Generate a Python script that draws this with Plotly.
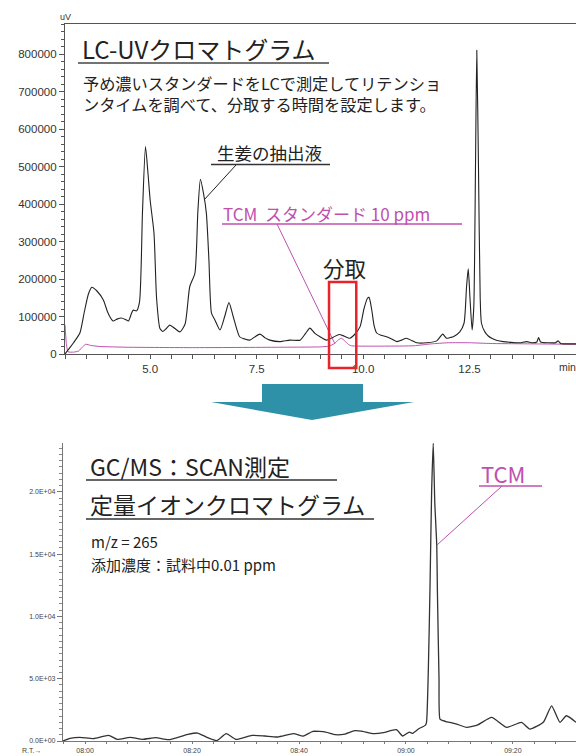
import plotly.graph_objects as go

W, H = 576, 756

# ---------------- data: LC-UV chromatogram (top) ----------------
lc_time = [3.00, 3.1, 3.2, 3.35, 3.45, 3.55, 3.63, 3.75, 3.9, 4.0, 4.06, 4.13, 4.22, 4.32, 4.42, 4.49,
           4.56, 4.6, 4.68, 4.75, 4.82, 4.89, 4.95, 5.0, 5.09, 5.15, 5.23, 5.3, 5.38, 5.46, 5.58, 5.7,
           5.82, 5.93, 6.05, 6.12, 6.18, 6.25, 6.32, 6.38, 6.44, 6.52, 6.64, 6.75, 6.85, 6.95, 7.1, 7.22,
           7.34, 7.45, 7.58, 7.7, 7.81, 8.05, 8.28, 8.52, 8.65, 8.75, 8.87, 8.99, 9.14, 9.3, 9.44, 9.55,
           9.69, 9.8, 9.93, 10.02, 10.1, 10.14, 10.2, 10.26, 10.32, 10.42, 10.55, 10.67, 10.79, 10.9,
           11.02, 11.14, 11.26, 11.5, 11.73, 11.87, 11.96, 12.05, 12.12, 12.27, 12.37, 12.43, 12.47,
           12.51, 12.56, 12.6, 12.64, 12.67, 12.71, 12.75, 12.78, 12.86, 12.94, 13.02, 13.15, 13.29,
           13.5, 13.68, 13.84, 13.98, 14.08, 14.12, 14.17, 14.35, 14.52, 14.58, 14.64, 14.8, 15.0]
ginger_uv = [0, 15000, 30000, 56000, 110000, 160000, 178000, 168000, 144000, 112000, 98000, 88000,
             93000, 96000, 92000, 88000, 108000, 117000, 115000, 139000, 380000, 553000, 480000,
             410000, 322000, 150000, 68000, 60000, 68000, 77000, 68000, 59000, 80000, 180000, 215000,
             380000, 466000, 430000, 375000, 250000, 109000, 91000, 64000, 100000, 137000, 100000,
             46000, 40000, 37000, 45000, 53000, 43000, 37000, 33000, 37000, 37000, 55000, 69000, 55000,
             46000, 37000, 45000, 52000, 48000, 42000, 52000, 73000, 120000, 148000, 151000, 120000,
             75000, 56000, 50000, 46000, 40000, 33000, 37000, 42000, 36000, 30000, 30000, 35000, 53000,
             42000, 44000, 46000, 59000, 82000, 180000, 227000, 150000, 64000, 126000, 500000, 810000,
             500000, 150000, 82000, 59000, 48000, 42000, 36000, 33000, 31000, 30000, 33000, 30000,
             32000, 44000, 32000, 30000, 30000, 35000, 28000, 27000, 27000]

std_time = [3.0, 3.03, 3.07, 3.2, 3.32, 3.42, 3.49, 3.6, 3.82, 4.5, 6.0, 8.0, 9.0, 9.2, 9.33, 9.42,
            9.49, 9.57, 9.65, 9.72, 10.5, 11.2, 11.6, 12.0, 12.5, 13.0, 14.0, 15.0]
tcm_std_uv = [78000, 30000, 6000, 5000, 8000, 20000, 26000, 23000, 20000, 18000, 17000, 18000, 19000,
              21000, 28000, 38000, 42000, 35000, 26000, 22000, 21000, 22000, 27000, 30000, 30000,
              28000, 27000, 26000]

lc_xticks = [5.0, 7.5, 10.0, 12.5]
lc_yticks = [0, 100000, 200000, 300000, 400000, 500000, 600000, 700000, 800000]

# ---------------- data: GC/MS ion chromatogram (bottom) ----------------
ms_time = [7.931, 7.953, 7.984, 8.026, 8.073, 8.10, 8.14, 8.18, 8.22, 8.26, 8.32, 8.35, 8.38, 8.41,
           8.44, 8.47, 8.52, 8.56, 8.60, 8.65, 8.68, 8.71, 8.75, 8.78, 8.81, 8.84, 8.86, 8.90, 8.93,
           8.97, 8.99, 9.01, 9.02, 9.04, 9.06, 9.064, 9.07, 9.075, 9.08, 9.085, 9.09, 9.096, 9.098,
           9.103, 9.106, 9.116, 9.127, 9.137, 9.158, 9.189, 9.224, 9.267, 9.314, 9.36, 9.386, 9.428,
           9.454, 9.48, 9.50, 9.53]
ms_abund = [0, 213, 293, 187, 453, 133, 293, 133, 267, 107, 533, 640, 293, 27, 587, 133, 453, 400,
            320, 587, 400, 773, 720, 507, 560, 827, 800, 587, 667, 907, 400, 720, 613, 987, 1250,
            1500, 6000, 12400, 20000, 23900, 19000, 15760, 12000, 5000, 1760, 1630, 1540, 1500,
            1360, 1093, 1300, 1893, 1093, 1500, 960, 1500, 2827, 1500, 2027, 1500]

ms_xticks = [8.0, 8 + 1 / 3, 8 + 2 / 3, 9.0, 9 + 1 / 3]
ms_xlabels = ["08:00", "08:20", "08:40", "09:00", "09:20"]
ms_yticks = [0, 5000, 10000, 15000, 20000]
ms_ylabels = ["0.0E+00", "5.0E+03", "1.0E+04", "1.5E+04", "2.0E+04"]

BLACK = "#222222"
PINK = "#c04fae"
TEAL = "#2e91a8"
RED = "#e8232a"
JP = "Noto Sans CJK JP"


def px(x):
    return x / W


def py(y):
    return 1 - y / H


fig = go.Figure()
fig.add_trace(go.Scatter(x=std_time, y=tcm_std_uv, mode="lines", xaxis="x", yaxis="y",
                         line=dict(color=PINK, width=1, shape="spline", smoothing=0.5),
                         hoverinfo="skip", showlegend=False))
fig.add_trace(go.Scatter(x=lc_time, y=ginger_uv, mode="lines", xaxis="x", yaxis="y",
                         line=dict(color=BLACK, width=1.1, shape="spline", smoothing=0.6),
                         hoverinfo="skip", showlegend=False))
fig.add_trace(go.Scatter(x=ms_time, y=ms_abund, mode="lines", xaxis="x2", yaxis="y2",
                         line=dict(color="#333333", width=1.3, shape="spline", smoothing=0.5),
                         hoverinfo="skip", showlegend=False))

axcol = "#555555"
tickfont = dict(family="Liberation Sans, Arial", size=11.5, color="#333333")
msfont = dict(family="Liberation Sans, Arial", size=7, color="#444444")
fig.update_layout(
    width=W, height=H, margin=dict(l=0, r=0, t=0, b=0),
    paper_bgcolor="white", plot_bgcolor="white", showlegend=False,
    xaxis=dict(domain=[px(65), 1.0], range=[3, 15], showgrid=False, zeroline=False,
               showline=True, linecolor=axcol, linewidth=1.2, mirror=True,
               ticks="outside", ticklen=4, tickcolor=axcol, tickvals=lc_xticks,
               tickformat=".1f", tickfont=tickfont,
               minor=dict(dtick=0.5, tick0=3, ticks="outside", ticklen=4, tickcolor=axcol, showgrid=False),
               anchor="y", automargin=False),
    yaxis=dict(domain=[py(354), py(24)], range=[0, 880000], showgrid=False, zeroline=False,
               showline=True, linecolor=axcol, linewidth=1.2,
               ticks="outside", ticklen=5, tickcolor=axcol, tickvals=lc_yticks,
               tickformat="d", tickfont=tickfont,
               minor=dict(dtick=20000, ticks="outside", ticklen=3, tickcolor=axcol, showgrid=False),
               anchor="x", automargin=False),
    xaxis2=dict(domain=[px(63), 1.0], range=[7.931, 9.53], showgrid=False, zeroline=False,
                showline=True, linecolor="#777777", linewidth=1.2,
                ticks="outside", ticklen=2, tickcolor="#777777", tickvals=ms_xticks, ticktext=ms_xlabels,
                tickfont=msfont,
                minor=dict(dtick=1 / 15, tick0=8.0, ticks="outside", ticklen=2, tickcolor="#777777", showgrid=False),
                anchor="y2", automargin=False),
    yaxis2=dict(domain=[py(741), py(443)], range=[0, 23920], showgrid=False, zeroline=False,
                showline=True, linecolor="#777777", linewidth=1.2,
                ticks="outside", ticklen=5, tickcolor="#777777", tickvals=ms_yticks, ticktext=ms_ylabels,
                tickfont=msfont,
                minor=dict(dtick=500, ticks="outside", ticklen=3, tickcolor="#888888", showgrid=False),
                anchor="x2", automargin=False),
)

shapes = []
ann = []


def line(x0, y0, x1, y1, color, width=1.2):
    shapes.append(dict(type="line", xref="paper", yref="paper", x0=px(x0), y0=py(y0),
                       x1=px(x1), y1=py(y1), line=dict(color=color, width=width)))


def text(x, y, s, size, color, anchor="left", family=JP):
    ann.append(dict(xref="paper", yref="paper", x=px(x), y=py(y), text=s, showarrow=False,
                    xanchor=anchor, yanchor="middle", align="left",
                    font=dict(family=family, size=size, color=color)))


# top chart annotations
text(58, 17, "uV", 9, "#333333", family="Liberation Sans, Arial")
text(578, 367, "min", 10.5, "#333333", anchor="right", family="Liberation Sans, Arial")
text(80, 48, "LC-UVクロマトグラム", 24, "#222222")
line(78, 63, 329, 63, "#444444", 1.5)
text(81, 93.5, "予め濃いスタンダードをLCで測定してリテンショ<br>ンタイムを調べて、分取する時間を設定します。",
     16.2, "#222222")
text(215, 153, "生姜の抽出液", 17.5, "#222222")
line(211, 164.5, 330, 164.5, "#333333", 1.3)
line(236, 165, 204, 200, "#222222", 1)
text(221, 213, "TCM  スタンダード 10 ppm", 17, PINK)
line(222, 224, 462, 224, PINK, 1.3)
line(277, 224, 335, 344, PINK, 1)
text(344, 267, "分取", 21.5, "#222222", anchor="center")

# red box (fraction window): data-derived x, extends below axis
x_of = lambda t: (65 + (t - 3) * (576 - 65) / 12)
shapes.append(dict(type="rect", xref="paper", yref="paper", x0=px(x_of(9.2)), x1=px(x_of(9.84)),
                   y0=py(368), y1=py(282), line=dict(color=RED, width=2.5)))

# arrow
arrow_path = "M {a},{b} L {c},{b} L {c},{d} L {e},{d} L {f},{g} L {h},{d} L {a2},{d} Z".format(
    a=px(262), b=py(384), c=px(363), d=py(402), e=px(414), f=px(312), g=py(420), h=px(211), a2=px(262))
shapes.append(dict(type="path", xref="paper", yref="paper", path=arrow_path,
                   fillcolor=TEAL, line=dict(width=0)))

# bottom chart annotations
text(88, 466, "GC/MS：SCAN測定", 23, "#222222")
line(86, 480, 337, 480, "#333333", 1.5)
text(88, 504, "定量イオンクロマトグラム", 23, "#222222")
line(86, 519, 374, 519, "#333333", 1.5)
text(89, 541, "m/z = 265", 15, "#222222")
text(89, 564, "添加濃度：試料中0.01 ppm", 15, "#222222")
text(479, 473, "TCM", 22, PINK)
line(479, 486, 542, 486, PINK, 1.3)
line(502, 486, 437, 545, PINK, 1)
text(20, 750, "R.T.→", 7, "#444444", family="Liberation Sans, Arial")

fig.update_layout(shapes=shapes, annotations=ann)
fig.write_html("out.html", config={"displayModeBar": False},
               post_script="document.body.style.margin='0';document.body.style.overflow='hidden';")
